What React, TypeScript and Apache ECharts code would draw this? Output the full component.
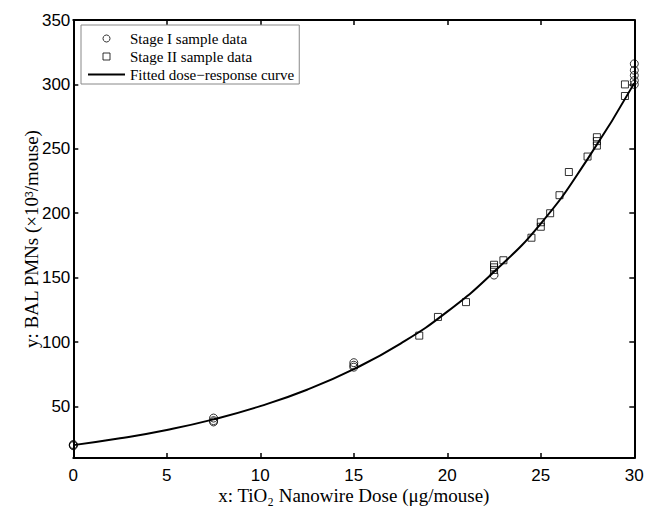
import React, { useEffect, useRef } from "react";
import * as echarts from "echarts";

const stage1Dose = [0, 0, 0, 7.5, 7.5, 7.5, 15, 15, 15, 22.5, 30, 30, 30, 30, 30];
const stage1Pmn = [19.5, 20, 20.5, 41, 39, 38, 84, 82, 80.5, 152, 316, 311, 307, 303, 300];

const stage2Dose = [18.5, 19.5, 21, 22.5, 22.5, 22.5, 23, 24.5, 25, 25, 25.5, 26, 26.5, 27.5, 28, 28, 28, 29.5, 29.5];
const stage2Pmn = [105, 119.5, 131, 160, 158, 156, 163.5, 181, 193, 189.5, 200, 214, 232, 244, 259, 256, 252.5, 300, 291];

const fitDose = [0, 2.5, 5, 7.5, 10, 12.5, 15, 17.5, 20, 22.5, 25, 27.5, 30];
const fitPmn = [20, 25.3, 31.8, 40, 50.3, 63, 79, 98.8, 123.6, 154.6, 192, 242, 301];

const yTicks = [50, 100, 150, 200, 250, 300, 350];

const seriesNames = ["Stage I sample data", "Stage II sample data", "Fitted dose\u2212response curve"];

const SANS = "Liberation Sans, Arial, sans-serif";
const SERIF = "Liberation Serif, Times New Roman, serif";

export default function App() {
  const ref = useRef<HTMLDivElement>(null);
  useEffect(() => {
    if (!ref.current) return;
    const chart = echarts.init(ref.current, null, { renderer: "svg" });
    const axisLine = { show: true, onZero: false, lineStyle: { color: "#000", width: 2 } };
    const axisTick = { show: true, inside: true, length: 5, lineStyle: { color: "#000", width: 1.5 } };
    const hollow = { color: "rgba(0,0,0,0)", borderColor: "#000", borderWidth: 1 };
    chart.setOption({
      animation: false,
      backgroundColor: "#fff",
      grid: { left: 73.3, right: 12.7, top: 20, bottom: 46.7, containLabel: false },
      legend: {
        orient: "vertical",
        left: 81,
        top: 25,
        itemWidth: 37,
        itemHeight: 7,
        itemGap: 3,
        padding: [6, 5, 2, 7],
        borderColor: "#888",
        borderWidth: 1,
        backgroundColor: "#fff",
        selectedMode: false,
        symbolKeepAspect: true,
        textStyle: { fontFamily: SERIF, fontSize: 15, color: "#000" },
        data: [
          { name: seriesNames[0], icon: "circle", itemStyle: hollow },
          { name: seriesNames[1], icon: "path://M0,0L10,0L10,10L0,10Z", itemStyle: hollow },
          {
            name: seriesNames[2],
            icon: "path://M0,0L37,0L37,2L0,2Z",
            itemStyle: { color: "#000", borderWidth: 0 },
          },
        ],
      },
      xAxis: [
        {
          type: "value",
          min: 0,
          max: 30,
          interval: 5,
          position: "bottom",
          axisLine,
          axisTick,
          splitLine: { show: false },
          axisLabel: { fontFamily: SANS, fontSize: 17, color: "#000", margin: 9 },
          name: "x: TiO\u2082 Nanowire Dose (\u03bcg/mouse)",
          nameLocation: "middle",
          nameGap: 28,
          nameMoveOverlap: false,
          nameTextStyle: { fontFamily: SERIF, fontSize: 19, color: "#000" },
        },
        {
          type: "value",
          min: 0,
          max: 30,
          interval: 5,
          position: "top",
          axisLine,
          axisTick,
          splitLine: { show: false },
          axisLabel: { show: false },
        },
      ],
      yAxis: [
        {
          type: "value",
          min: 10,
          max: 350,
          position: "left",
          axisLine,
          axisTick: { ...axisTick, customValues: yTicks },
          splitLine: { show: false },
          axisLabel: { fontFamily: SANS, fontSize: 17, color: "#000", margin: 3, customValues: yTicks },
          name: "y: BAL PMNs (\u00d710\u00b3/mouse)",
          nameLocation: "middle",
          nameGap: 32,
          nameMoveOverlap: false,
          nameTextStyle: { fontFamily: SERIF, fontSize: 19, color: "#000" },
        },
        {
          type: "value",
          min: 10,
          max: 350,
          position: "right",
          axisLine,
          axisTick: { ...axisTick, customValues: yTicks },
          splitLine: { show: false },
          axisLabel: { show: false },
        },
      ],
      series: [
        {
          name: seriesNames[0],
          type: "scatter",
          symbol: "circle",
          symbolSize: 8,
          itemStyle: hollow,
          data: stage1Dose.map((x, i) => [x, stage1Pmn[i]]),
          z: 2,
        },
        {
          name: seriesNames[1],
          type: "scatter",
          symbol: "rect",
          symbolSize: 7,
          itemStyle: hollow,
          data: stage2Dose.map((x, i) => [x, stage2Pmn[i]]),
          z: 2,
        },
        {
          name: seriesNames[2],
          type: "line",
          symbol: "none",
          showSymbol: false,
          smooth: true,
          lineStyle: { color: "#000", width: 2 },
          itemStyle: { color: "#000" },
          data: fitDose.map((x, i) => [x, fitPmn[i]]),
          z: 3,
        },
      ],
    });
    return () => chart.dispose();
  }, []);
  return (
    <div
      ref={ref}
      style={{ position: "absolute", left: 0, top: 0, width: 647, height: 510 }}
    />
  );
}
